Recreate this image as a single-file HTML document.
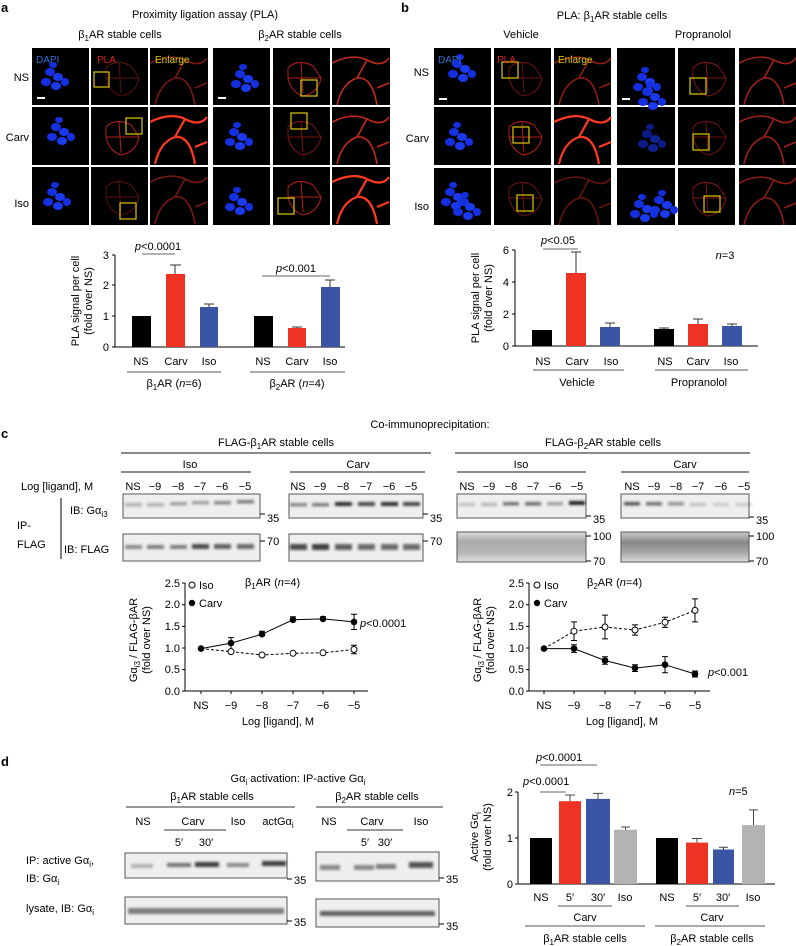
<!DOCTYPE html>
<html><head><meta charset="utf-8"><style>
html,body{margin:0;padding:0;background:#fff}
svg{display:block;font-family:"Liberation Sans",sans-serif}
</style></head><body>
<svg width="796" height="946" viewBox="0 0 796 946" xmlns="http://www.w3.org/2000/svg">
<defs>
<filter id="bl" x="-20%" y="-100%" width="140%" height="300%"><feGaussianBlur stdDeviation="1.2"/></filter>
<linearGradient id="sm1" x1="0" y1="0" x2="0" y2="1"><stop offset="0" stop-color="#ddd"/><stop offset=".3" stop-color="#aaa"/><stop offset=".7" stop-color="#b8b8b8"/><stop offset="1" stop-color="#e0e0e0"/></linearGradient>
<linearGradient id="sm2" x1="0" y1="0" x2="0" y2="1"><stop offset="0" stop-color="#ccc"/><stop offset=".35" stop-color="#888"/><stop offset=".7" stop-color="#aaa"/><stop offset="1" stop-color="#ddd"/></linearGradient>
<g id="dapi"><ellipse cx="22" cy="22" rx="5" ry="4" fill="#1530e0"/><ellipse cx="30" cy="27" rx="5" ry="4" fill="#1a3af0"/><ellipse cx="18" cy="32" rx="5" ry="4" fill="#1530e0"/><ellipse cx="28" cy="36" rx="5" ry="4" fill="#1a3af0"/><ellipse cx="37" cy="32" rx="4" ry="4" fill="#1530e0"/><ellipse cx="25" cy="15" rx="4" ry="3" fill="#1530e0"/></g>
<g id="pla" fill="none" stroke="#b0201a" stroke-width="1"><path d="M15 20 Q25 10 40 18 L48 30 Q45 45 30 48 Q18 44 15 30Z M28 15 L30 45 M15 30 L48 30"/></g>
<g id="enl" fill="none" stroke="#c42a1c" stroke-width="1.6"><path d="M0 15 Q20 5 35 12 Q50 20 57 10 M5 57 Q10 35 25 30 Q40 28 45 57 M25 30 L35 12 M45 40 L57 35"/></g>
<g id="enlB" fill="none" stroke="#ff3a20" stroke-width="2.2"><path d="M0 15 Q20 5 35 12 Q50 20 57 10 M5 57 Q10 35 25 30 Q40 28 45 57 M25 30 L35 12 M45 40 L57 35"/></g>
</defs>

<!-- Panel a -->
<text x="1" y="12" font-size="13" font-weight="bold">a</text>
<text x="205" y="18" font-size="11" text-anchor="middle">Proximity ligation assay (PLA)</text>
<text x="120" y="38" font-size="11" text-anchor="middle">β<tspan font-size="8" dy="3">1</tspan><tspan dy="-3">AR stable cells</tspan></text>
<text x="300" y="38" font-size="11" text-anchor="middle">β<tspan font-size="8" dy="3">2</tspan><tspan dy="-3">AR stable cells</tspan></text>
<g font-size="11" text-anchor="end"><text x="29" y="81">NS</text><text x="29" y="141">Carv</text><text x="29" y="207">Iso</text></g>
<g fill="#000">
<rect x="32" y="48" width="57" height="57"/><rect x="91" y="48" width="57" height="57"/><rect x="150" y="48" width="58" height="57"/>
<rect x="32" y="107" width="57" height="58"/><rect x="91" y="107" width="57" height="58"/><rect x="150" y="107" width="58" height="58"/>
<rect x="32" y="167" width="57" height="58"/><rect x="91" y="167" width="57" height="58"/><rect x="150" y="167" width="58" height="58"/>
<rect x="213" y="48" width="57" height="57"/><rect x="273" y="48" width="57" height="57"/><rect x="332" y="48" width="58" height="57"/>
<rect x="213" y="107" width="57" height="58"/><rect x="273" y="107" width="57" height="58"/><rect x="332" y="107" width="58" height="58"/>
<rect x="213" y="167" width="57" height="58"/><rect x="273" y="167" width="57" height="58"/><rect x="332" y="167" width="58" height="58"/>
</g>
<use href="#dapi" x="28" y="50"/><use href="#dapi" x="34" y="105"/><use href="#dapi" x="30" y="170"/>
<use href="#dapi" x="218" y="52"/><use href="#dapi" x="212" y="110"/><use href="#dapi" x="212" y="175"/>
<use href="#pla" x="91" y="48" opacity=".5"/><use href="#pla" x="91" y="107"/><use href="#pla" x="91" y="167" opacity=".5"/>
<use href="#pla" x="273" y="48"/><use href="#pla" x="273" y="107" opacity=".7"/><use href="#pla" x="273" y="167"/>
<use href="#enl" x="150" y="48" opacity=".6"/><use href="#enlB" x="150" y="107"/><use href="#enl" x="150" y="167" opacity=".6"/>
<use href="#enl" x="332" y="48"/><use href="#enl" x="332" y="107"/><use href="#enlB" x="332" y="167"/>
<g fill="none" stroke="#e0c800" stroke-width="1.2"><rect x="94" y="72" width="15" height="15"/><rect x="126" y="118" width="16" height="16"/><rect x="120" y="203" width="16" height="16"/><rect x="301" y="80" width="16" height="16"/><rect x="291" y="113" width="16" height="16"/><rect x="278" y="198" width="16" height="16"/></g>
<g font-size="10"><text x="36" y="63" fill="#2a6fd6">DAPI</text><text x="97" y="63" fill="#e02020">PLA</text><text x="155" y="63" fill="#e0c800">Enlarge</text></g>
<rect x="37" y="97" width="8" height="2" fill="#fff"/><rect x="218" y="97" width="8" height="2" fill="#fff"/>

<!-- a chart -->
<g stroke="#000" stroke-width="1" fill="none"><path d="M115 255 V347 H345 M112 255 H115 M112 285 H115 M112 316 H115 M112 347 H115"/></g>
<g font-size="11" text-anchor="end"><text x="109" y="259">3</text><text x="109" y="289">2</text><text x="109" y="320">1</text><text x="109" y="351">0</text></g>
<text transform="translate(79 301) rotate(-90)" font-size="11" text-anchor="middle">PLA signal per cell</text>
<text transform="translate(92 301) rotate(-90)" font-size="11" text-anchor="middle">(fold over NS)</text>
<rect x="132" y="316" width="19" height="31" fill="#000"/>
<rect x="166" y="274" width="19" height="73" fill="#ee3224"/>
<rect x="200" y="307" width="18" height="40" fill="#3a55a4"/>
<rect x="254" y="316" width="19" height="31" fill="#000"/>
<rect x="288" y="328" width="18" height="19" fill="#ee3224"/>
<rect x="321" y="287" width="19" height="60" fill="#3a55a4"/>
<g stroke="#333" fill="none"><path d="M175 274 V265 M170 265 H181 M209 307 V304 M204 304 H214 M297 328 V327 M292 327 H302 M330 287 V280 M325 280 H335"/><path d="M142 254 H175 M262 276 H330" stroke="#666"/><path d="M127 372 H221 M250 372 H345" stroke="#555"/></g>
<text x="158" y="250" font-size="11" text-anchor="middle"><tspan font-style="italic">p</tspan>&lt;0.0001</text>
<text x="296" y="272" font-size="11" text-anchor="middle"><tspan font-style="italic">p</tspan>&lt;0.001</text>
<g font-size="11" text-anchor="middle"><text x="141" y="365">NS</text><text x="176" y="365">Carv</text><text x="209" y="365">Iso</text><text x="263" y="365">NS</text><text x="297" y="365">Carv</text><text x="330" y="365">Iso</text>
<text x="174" y="387">β<tspan font-size="8" dy="3">1</tspan><tspan dy="-3">AR (</tspan><tspan font-style="italic">n</tspan>=6)</text>
<text x="297" y="387">β<tspan font-size="8" dy="3">2</tspan><tspan dy="-3">AR (</tspan><tspan font-style="italic">n</tspan>=4)</text></g>

<!-- Panel b -->
<text x="401" y="12" font-size="13" font-weight="bold">b</text>
<text x="612" y="19" font-size="11" text-anchor="middle">PLA: β<tspan font-size="8" dy="3">1</tspan><tspan dy="-3">AR stable cells</tspan></text>
<text x="521" y="38" font-size="11" text-anchor="middle">Vehicle</text>
<text x="703" y="38" font-size="11" text-anchor="middle">Propranolol</text>
<g font-size="11" text-anchor="end"><text x="429" y="76">NS</text><text x="429" y="142">Carv</text><text x="429" y="210">Iso</text></g>
<g fill="#000">
<rect x="434" y="48" width="57" height="57"/><rect x="494" y="48" width="57" height="57"/><rect x="554" y="48" width="57" height="57"/>
<rect x="434" y="107" width="57" height="58"/><rect x="494" y="107" width="57" height="58"/><rect x="554" y="107" width="57" height="58"/>
<rect x="434" y="168" width="57" height="57"/><rect x="494" y="168" width="57" height="57"/><rect x="554" y="168" width="57" height="57"/>
<rect x="617" y="48" width="58" height="57"/><rect x="678" y="48" width="57" height="57"/><rect x="739" y="48" width="57" height="57"/>
<rect x="617" y="107" width="58" height="58"/><rect x="678" y="107" width="57" height="58"/><rect x="739" y="107" width="57" height="58"/>
<rect x="617" y="168" width="58" height="57"/><rect x="678" y="168" width="57" height="57"/><rect x="739" y="168" width="57" height="57"/>
</g>
<use href="#dapi" x="435" y="42"/><use href="#dapi" x="432" y="110"/><use href="#dapi" x="428" y="170"/><use href="#dapi" x="440" y="180"/>
<use href="#dapi" x="620" y="55"/><use href="#dapi" x="625" y="70"/><use href="#dapi" x="625" y="112" opacity=".6"/><use href="#dapi" x="617" y="182"/><use href="#dapi" x="637" y="178"/>
<use href="#pla" x="494" y="48" opacity=".6"/><use href="#pla" x="494" y="107"/><use href="#pla" x="494" y="168" opacity=".6"/>
<use href="#pla" x="678" y="48" opacity=".7"/><use href="#pla" x="678" y="107" opacity=".6"/><use href="#pla" x="678" y="168" opacity=".7"/>
<use href="#enl" x="554" y="48" opacity=".7"/><use href="#enlB" x="554" y="107"/><use href="#enl" x="554" y="168" opacity=".5"/>
<use href="#enl" x="739" y="48" opacity=".8"/><use href="#enl" x="739" y="107" opacity=".8"/><use href="#enl" x="739" y="168" opacity=".7"/>
<g fill="none" stroke="#e0c800" stroke-width="1.2"><rect x="502" y="62" width="16" height="16"/><rect x="513" y="127" width="16" height="16"/><rect x="517" y="195" width="16" height="16"/><rect x="690" y="78" width="16" height="16"/><rect x="693" y="134" width="16" height="16"/><rect x="704" y="196" width="16" height="16"/></g>
<g font-size="10"><text x="438" y="63" fill="#2a6fd6">DAPI</text><text x="497" y="63" fill="#e02020">PLA</text><text x="558" y="63" fill="#e0c800">Enlarge</text></g>
<rect x="439" y="98" width="8" height="2" fill="#fff"/><rect x="622" y="98" width="8" height="2" fill="#fff"/>

<!-- b chart -->
<g stroke="#000" fill="none"><path d="M515 250 V346 H758 M512 250 H515 M512 282 H515 M512 314 H515 M512 346 H515"/></g>
<g font-size="11" text-anchor="end"><text x="509" y="254">6</text><text x="509" y="286">4</text><text x="509" y="318">2</text><text x="509" y="350">0</text></g>
<text transform="translate(479 298) rotate(-90)" font-size="11" text-anchor="middle">PLA signal per cell</text>
<text transform="translate(492 298) rotate(-90)" font-size="11" text-anchor="middle">(fold over NS)</text>
<rect x="532" y="330" width="20" height="16" fill="#000"/>
<rect x="566" y="273" width="20" height="73" fill="#ee3224"/>
<rect x="600" y="327" width="20" height="19" fill="#3a55a4"/>
<rect x="654" y="329" width="20" height="17" fill="#000"/>
<rect x="688" y="324" width="20" height="22" fill="#ee3224"/>
<rect x="722" y="326" width="20" height="20" fill="#3a55a4"/>
<g stroke="#333" fill="none"><path d="M576 273 V252 M571 252 H581 M610 327 V323 M605 323 H615 M664 329 V328 M659 328 H669 M698 324 V319 M693 319 H703 M732 326 V324 M727 324 H737"/><path d="M543 249 H578" stroke="#666"/><path d="M533 370 H624 M655 370 H748" stroke="#555"/></g>
<text x="558" y="244" font-size="11" text-anchor="middle"><tspan font-style="italic">p</tspan>&lt;0.05</text>
<text x="725" y="259" font-size="11" text-anchor="middle"><tspan font-style="italic">n</tspan>=3</text>
<g font-size="11" text-anchor="middle"><text x="543" y="365">NS</text><text x="577" y="365">Carv</text><text x="611" y="365">Iso</text><text x="665" y="365">NS</text><text x="698" y="365">Carv</text><text x="731" y="365">Iso</text>
<text x="577" y="386">Vehicle</text><text x="699" y="386">Propranolol</text></g>

<!-- Panel c -->
<text x="1" y="438" font-size="13" font-weight="bold">c</text>
<text x="430" y="428" font-size="11" text-anchor="middle">Co-immunoprecipitation:</text>
<text x="276" y="446" font-size="11" text-anchor="middle">FLAG-β<tspan font-size="8" dy="3">1</tspan><tspan dy="-3">AR stable cells</tspan></text>
<text x="603" y="446" font-size="11" text-anchor="middle">FLAG-β<tspan font-size="8" dy="3">2</tspan><tspan dy="-3">AR stable cells</tspan></text>
<g stroke="#444" stroke-width="1.2" fill="none"><path d="M121 453 H431 M455 453 H750 M121 472 H251 M290 472 H425 M457 472 H586 M621 472 H749"/></g>
<g font-size="11" text-anchor="middle"><text x="190" y="468">Iso</text><text x="358" y="468">Carv</text><text x="521" y="468">Iso</text><text x="685" y="468">Carv</text></g>
<text x="21" y="490" font-size="11">Log [ligand], M</text>
<g font-size="11" text-anchor="middle">
<text x="133" y="490">NS</text><text x="155" y="490">−9</text><text x="178" y="490">−8</text><text x="200" y="490">−7</text><text x="222" y="490">−6</text><text x="245" y="490">−5</text>
<text x="298" y="490">NS</text><text x="320" y="490">−9</text><text x="343" y="490">−8</text><text x="366" y="490">−7</text><text x="389" y="490">−6</text><text x="411" y="490">−5</text>
<text x="467" y="490">NS</text><text x="489" y="490">−9</text><text x="511" y="490">−8</text><text x="533" y="490">−7</text><text x="555" y="490">−6</text><text x="577" y="490">−5</text>
<text x="632" y="490">NS</text><text x="654" y="490">−9</text><text x="676" y="490">−8</text><text x="698" y="490">−7</text><text x="721" y="490">−6</text><text x="744" y="490">−5</text>
</g>
<text x="70" y="514" font-size="11">IB: Gα<tspan font-size="8" dy="3">i3</tspan></text>
<text x="17" y="529" font-size="11">IP-</text><text x="17" y="548" font-size="11">FLAG</text>
<path d="M61 498 V559" stroke="#000"/>
<text x="64" y="553" font-size="11">IB: FLAG</text>
<!-- blot boxes -->
<g fill="#efefef" stroke="#555">
<rect x="123" y="494" width="137" height="24"/><rect x="289" y="494" width="134" height="24"/><rect x="457" y="494" width="129" height="24"/><rect x="621" y="494" width="128" height="24"/>
<rect x="123" y="534" width="137" height="27"/><rect x="289" y="534" width="134" height="27"/>
<rect x="457" y="532" width="129" height="30" fill="url(#sm1)"/><rect x="621" y="532" width="128" height="30" fill="url(#sm2)"/>
</g>
<g fill="#222" filter="url(#bl)">
<rect x="125" y="503" width="17" height="3.5" opacity=".3"/><rect x="147" y="503" width="17" height="3.5" opacity=".3"/><rect x="170" y="502" width="17" height="3.5" opacity=".4"/><rect x="192" y="501" width="17" height="3.5" opacity=".4"/><rect x="214" y="501" width="17" height="3.5" opacity=".5"/><rect x="237" y="500" width="17" height="3.5" opacity=".55"/>
<rect x="290" y="503" width="17" height="3.5" opacity=".5"/><rect x="312" y="503" width="17" height="3.5" opacity=".55"/><rect x="335" y="502" width="17" height="4" opacity=".95"/><rect x="358" y="502" width="17" height="4" opacity=".8"/><rect x="381" y="502" width="17" height="4" opacity=".95"/><rect x="403" y="502" width="17" height="4" opacity=".8"/>
<rect x="459" y="503" width="16" height="3" opacity=".25"/><rect x="481" y="503" width="16" height="3" opacity=".3"/><rect x="503" y="502" width="16" height="3.5" opacity=".6"/><rect x="525" y="502" width="16" height="3.5" opacity=".65"/><rect x="547" y="502" width="16" height="3.5" opacity=".4"/><rect x="569" y="501" width="16" height="4" opacity="1"/>
<rect x="624" y="502" width="16" height="3.5" opacity=".75"/><rect x="646" y="502" width="16" height="3.5" opacity=".6"/><rect x="668" y="502" width="16" height="3.5" opacity=".45"/><rect x="690" y="503" width="16" height="3" opacity=".25"/><rect x="713" y="503" width="16" height="3" opacity=".2"/><rect x="736" y="503" width="16" height="3" opacity=".2"/>
<rect x="125" y="545" width="17" height="4" opacity=".5"/><rect x="147" y="545" width="17" height="4" opacity=".55"/><rect x="170" y="545" width="17" height="4" opacity=".55"/><rect x="192" y="544" width="17" height="5" opacity=".8"/><rect x="214" y="544" width="17" height="5" opacity=".7"/><rect x="237" y="544" width="17" height="5" opacity=".65"/>
<rect x="290" y="544" width="17" height="6" opacity=".8"/><rect x="312" y="544" width="17" height="6" opacity=".85"/><rect x="335" y="544" width="17" height="6" opacity=".7"/><rect x="358" y="544" width="17" height="6" opacity=".65"/><rect x="381" y="544" width="17" height="6" opacity=".65"/><rect x="403" y="544" width="17" height="6" opacity=".65"/>
</g>
<g stroke="#000" fill="none"><path d="M260 514 H265 M423 514 H428 M586 516 H591 M749 517 H754 M260 541 H265 M423 541 H428 M586 536 H591 M586 561 H591 M749 536 H754 M749 561 H754"/></g>
<g font-size="11"><text x="267" y="522">35</text><text x="430" y="522">35</text><text x="593" y="523">35</text><text x="756" y="524">35</text>
<text x="267" y="545">70</text><text x="430" y="545">70</text><text x="593" y="540">100</text><text x="593" y="565">70</text><text x="756" y="540">100</text><text x="756" y="565">70</text></g>

<!-- line plot left -->
<g stroke="#000" fill="none"><path d="M185 583 V691 H368 M182 583 H185 M182 604.8 H185 M182 626.4 H185 M182 648 H185 M182 669.6 H185 M182 691 H185 M201 691 V694 M231 691 V694 M262 691 V694 M293 691 V694 M323 691 V694 M354 691 V694"/></g>
<g font-size="11" text-anchor="end"><text x="180" y="587">2.5</text><text x="180" y="608">2.0</text><text x="180" y="630">1.5</text><text x="180" y="652">1.0</text><text x="180" y="673">0.5</text><text x="180" y="695">0.0</text></g>
<g font-size="11" text-anchor="middle"><text x="201" y="709">NS</text><text x="231" y="709">−9</text><text x="262" y="709">−8</text><text x="293" y="709">−7</text><text x="323" y="709">−6</text><text x="354" y="709">−5</text><text x="278" y="725">Log [ligand], M</text></g>
<text transform="translate(137 640) rotate(-90)" font-size="11" text-anchor="middle">Gα<tspan font-size="8" dy="3">i3</tspan><tspan dy="-3"> / FLAG-βAR</tspan></text>
<text transform="translate(150 640) rotate(-90)" font-size="11" text-anchor="middle">(fold over NS)</text>
<circle cx="192" cy="585" r="3" fill="none" stroke="#000"/><text x="199" y="589" font-size="11">Iso</text>
<circle cx="192" cy="603" r="3.2" fill="#000"/><text x="199" y="607" font-size="11">Carv</text>
<text x="245" y="586" font-size="11">β<tspan font-size="8" dy="3">1</tspan><tspan dy="-3">AR (</tspan><tspan font-style="italic">n</tspan>=4)</text>
<text x="360" y="627" font-size="11"><tspan font-style="italic">p</tspan>&lt;0.0001</text>
<g stroke="#000" fill="none">
<polyline points="201,648.6 231,643.1 262,634.2 293,619.8 323,618.9 354,621.9"/>
<polyline points="201,648.6 231,651.6 262,655 293,653.3 323,652.8 354,649.5" stroke-dasharray="3,2"/>
<path d="M231 637.6 V648.6 M228 637.6 H234 M262 631.2 V637.2 M259 631.2 H265 M293 616.8 V622.8 M290 616.8 H296 M323 616.8 V621 M320 616.8 H326 M354 614.3 V629.5 M351 614.3 H357 M351 629.5 H357"/>
<path d="M231 649.5 V653.7 M262 653.7 V656.3 M293 652 V654.6 M323 651.5 V654.1 M354 645.3 V653.7 M351 645.3 H357 M351 653.7 H357"/>
</g>
<g fill="#000"><circle cx="201" cy="648.6" r="3.3"/><circle cx="231" cy="643.1" r="3.3"/><circle cx="262" cy="634.2" r="3.3"/><circle cx="293" cy="619.8" r="3.3"/><circle cx="323" cy="618.9" r="3.3"/><circle cx="354" cy="621.9" r="3.3"/></g>
<g fill="#fff" stroke="#000"><circle cx="231" cy="651.6" r="3"/><circle cx="262" cy="655" r="3"/><circle cx="293" cy="653.3" r="3"/><circle cx="323" cy="652.8" r="3"/><circle cx="354" cy="649.5" r="3"/></g>

<!-- line plot right -->
<g stroke="#000" fill="none"><path d="M529 583 V691 H710 M526 583 H529 M526 604.8 H529 M526 626.4 H529 M526 648 H529 M526 669.6 H529 M526 691 H529 M544 691 V694 M574 691 V694 M605 691 V694 M635 691 V694 M665 691 V694 M695 691 V694"/></g>
<g font-size="11" text-anchor="end"><text x="524" y="587">2.5</text><text x="524" y="608">2.0</text><text x="524" y="630">1.5</text><text x="524" y="652">1.0</text><text x="524" y="673">0.5</text><text x="524" y="695">0.0</text></g>
<g font-size="11" text-anchor="middle"><text x="544" y="709">NS</text><text x="574" y="709">−9</text><text x="605" y="709">−8</text><text x="635" y="709">−7</text><text x="665" y="709">−6</text><text x="695" y="709">−5</text><text x="622" y="725">Log [ligand], M</text></g>
<text transform="translate(481 640) rotate(-90)" font-size="11" text-anchor="middle">Gα<tspan font-size="8" dy="3">i3</tspan><tspan dy="-3"> / FLAG-βAR</tspan></text>
<text transform="translate(494 640) rotate(-90)" font-size="11" text-anchor="middle">(fold over NS)</text>
<circle cx="537" cy="585" r="3" fill="none" stroke="#000"/><text x="544" y="589" font-size="11">Iso</text>
<circle cx="537" cy="603" r="3.2" fill="#000"/><text x="544" y="607" font-size="11">Carv</text>
<text x="587" y="586" font-size="11">β<tspan font-size="8" dy="3">2</tspan><tspan dy="-3">AR (</tspan><tspan font-style="italic">n</tspan>=4)</text>
<text x="708" y="676" font-size="11"><tspan font-style="italic">p</tspan>&lt;0.001</text>
<g stroke="#000" fill="none">
<polyline points="544,648.6 574,648.6 605,660.5 635,668.1 665,664.7 695,674"/>
<polyline points="544,648.6 574,631.2 605,627 635,630 665,622.3 695,610.4" stroke-dasharray="3,2"/>
<path d="M574 621.9 V640.5 M571 621.9 H577 M571 640.5 H577 M605 615.1 V638.9 M602 615.1 H608 M602 638.9 H608 M635 624.9 V635.1 M632 624.9 H638 M632 635.1 H638 M665 617.2 V627.4 M662 617.2 H668 M662 627.4 H668 M695 598.9 V621.9 M692 598.9 H698 M692 621.9 H698"/>
<path d="M574 644.8 V652.4 M571 644.8 H577 M571 652.4 H577 M605 656.7 V664.3 M602 656.7 H608 M602 664.3 H608 M635 664.7 V671.5 M632 664.7 H638 M632 671.5 H638 M665 656.6 V672.8 M662 656.6 H668 M662 672.8 H668 M695 671 V677 M692 671 H698 M692 677 H698"/>
</g>
<g fill="#fff" stroke="#000"><circle cx="574" cy="631.2" r="3"/><circle cx="605" cy="627" r="3"/><circle cx="635" cy="630" r="3"/><circle cx="665" cy="622.3" r="3"/><circle cx="695" cy="610.4" r="3"/></g>
<g fill="#000"><circle cx="544" cy="648.6" r="3.3"/><circle cx="574" cy="648.6" r="3.3"/><circle cx="605" cy="660.5" r="3.3"/><circle cx="635" cy="668.1" r="3.3"/><circle cx="665" cy="664.7" r="3.3"/><circle cx="695" cy="674" r="3.3"/></g>

<!-- Panel d -->
<text x="1" y="766" font-size="13" font-weight="bold">d</text>
<text x="298" y="782" font-size="11" text-anchor="middle">Gα<tspan font-size="8" dy="3">i</tspan><tspan dy="-3"> activation: IP-active Gα</tspan><tspan font-size="8" dy="3">i</tspan></text>
<text x="212" y="800" font-size="11" text-anchor="middle">β<tspan font-size="8" dy="3">1</tspan><tspan dy="-3">AR stable cells</tspan></text>
<text x="377" y="800" font-size="11" text-anchor="middle">β<tspan font-size="8" dy="3">2</tspan><tspan dy="-3">AR stable cells</tspan></text>
<g stroke="#333" fill="none" stroke-width="1.1"><path d="M126 807 H295 M316 807 H443 M164 830 H226 M347 830 H403"/></g>
<g font-size="11" text-anchor="middle"><text x="143" y="825">NS</text><text x="193" y="825">Carv</text><text x="238" y="825">Iso</text><text x="278" y="825">actGα<tspan font-size="8" dy="3">i</tspan></text><text x="329" y="825">NS</text><text x="372" y="825">Carv</text><text x="421" y="825">Iso</text>
<text x="179" y="846">5′</text><text x="206" y="846">30′</text><text x="365" y="846">5′</text><text x="385" y="846">30′</text></g>
<g font-size="11"><text x="26" y="864">IP:  active Gα<tspan font-size="8" dy="3">i</tspan><tspan dy="-3">,</tspan></text><text x="26" y="882">IB: Gα<tspan font-size="8" dy="3">i</tspan></text><text x="26" y="912">lysate, IB: Gα<tspan font-size="8" dy="3">i</tspan></text></g>
<g fill="#efefef" stroke="#555"><rect x="125" y="853" width="162" height="25"/><rect x="316" y="852" width="123" height="29"/><rect x="125" y="897" width="162" height="27"/><rect x="316" y="899" width="123" height="28"/></g>
<g fill="#222" filter="url(#bl)">
<rect x="131" y="864" width="22" height="4" opacity=".3"/><rect x="167" y="863" width="24" height="4" opacity=".6"/><rect x="195" y="862" width="24" height="5" opacity=".85"/><rect x="227" y="863" width="22" height="4" opacity=".5"/><rect x="262" y="861" width="24" height="5" opacity=".85"/>
<rect x="320" y="865" width="20" height="5" opacity=".5"/><rect x="354" y="865" width="20" height="5" opacity=".5"/><rect x="376" y="864" width="20" height="5" opacity=".55"/><rect x="409" y="862" width="24" height="6" opacity=".75"/>
<rect x="128" y="908" width="156" height="6" opacity=".55"/>
<rect x="320" y="911" width="115" height="5" opacity=".7"/>
</g>
<g stroke="#000" fill="none"><path d="M287 879 H292 M439 878 H444 M287 921 H292 M439 924 H444"/></g>
<g font-size="11"><text x="294" y="884">35</text><text x="446" y="883">35</text><text x="294" y="926">35</text><text x="446" y="930">35</text></g>

<!-- d chart -->
<g stroke="#000" fill="none"><path d="M518 792 V884 H775 M515 792 H518 M515 838 H518 M515 884 H518"/></g>
<g font-size="11" text-anchor="end"><text x="513" y="796">2</text><text x="513" y="842">1</text><text x="513" y="888">0</text></g>
<text transform="translate(478 837) rotate(-90)" font-size="11" text-anchor="middle">Active Gα<tspan font-size="8" dy="3">i</tspan></text>
<text transform="translate(491 837) rotate(-90)" font-size="11" text-anchor="middle">(fold over NS)</text>
<rect x="530" y="838" width="22" height="46" fill="#000"/>
<rect x="559" y="801.2" width="22" height="82.8" fill="#ee3224"/>
<rect x="586" y="798.9" width="24" height="85.1" fill="#3a55a4"/>
<rect x="614" y="829.7" width="23" height="54.3" fill="#b3b3b3"/>
<rect x="656" y="838" width="22" height="46" fill="#000"/>
<rect x="686" y="842.6" width="22" height="41.4" fill="#ee3224"/>
<rect x="713" y="849.5" width="21" height="34.5" fill="#3a55a4"/>
<rect x="742" y="825.1" width="23" height="58.9" fill="#b3b3b3"/>
<g stroke="#444" fill="none"><path d="M570 801 V795 M565 795 H575 M598 799 V793.4 M593 793.4 H603 M625.5 829.7 V827 M621 827 H630 M697 842.6 V838.5 M692 838.5 H702 M723.5 849.5 V847.2 M719 847.2 H728 M753.5 825 V809.9 M749 809.9 H758"/>
<path d="M540 792 H566 M540 765 H597" stroke="#666"/>
<path d="M558 906 H612 M686 906 H739 M525 926 H645 M655 926 H765" stroke="#555"/></g>
<text x="523" y="785" font-size="11"><tspan font-style="italic">p</tspan>&lt;0.0001</text>
<text x="536" y="761" font-size="11"><tspan font-style="italic">p</tspan>&lt;0.0001</text>
<text x="729" y="795" font-size="11"><tspan font-style="italic">n</tspan>=5</text>
<g font-size="11" text-anchor="middle"><text x="541" y="901">NS</text><text x="570" y="901">5′</text><text x="598" y="901">30′</text><text x="625" y="901">Iso</text><text x="667" y="901">NS</text><text x="697" y="901">5′</text><text x="723" y="901">30′</text><text x="753" y="901">Iso</text>
<text x="585" y="921">Carv</text><text x="712" y="921">Carv</text>
<text x="585" y="942">β<tspan font-size="8" dy="3">1</tspan><tspan dy="-3">AR stable cells</tspan></text>
<text x="712" y="942">β<tspan font-size="8" dy="3">2</tspan><tspan dy="-3">AR stable cells</tspan></text></g>
</svg>
</body></html>
